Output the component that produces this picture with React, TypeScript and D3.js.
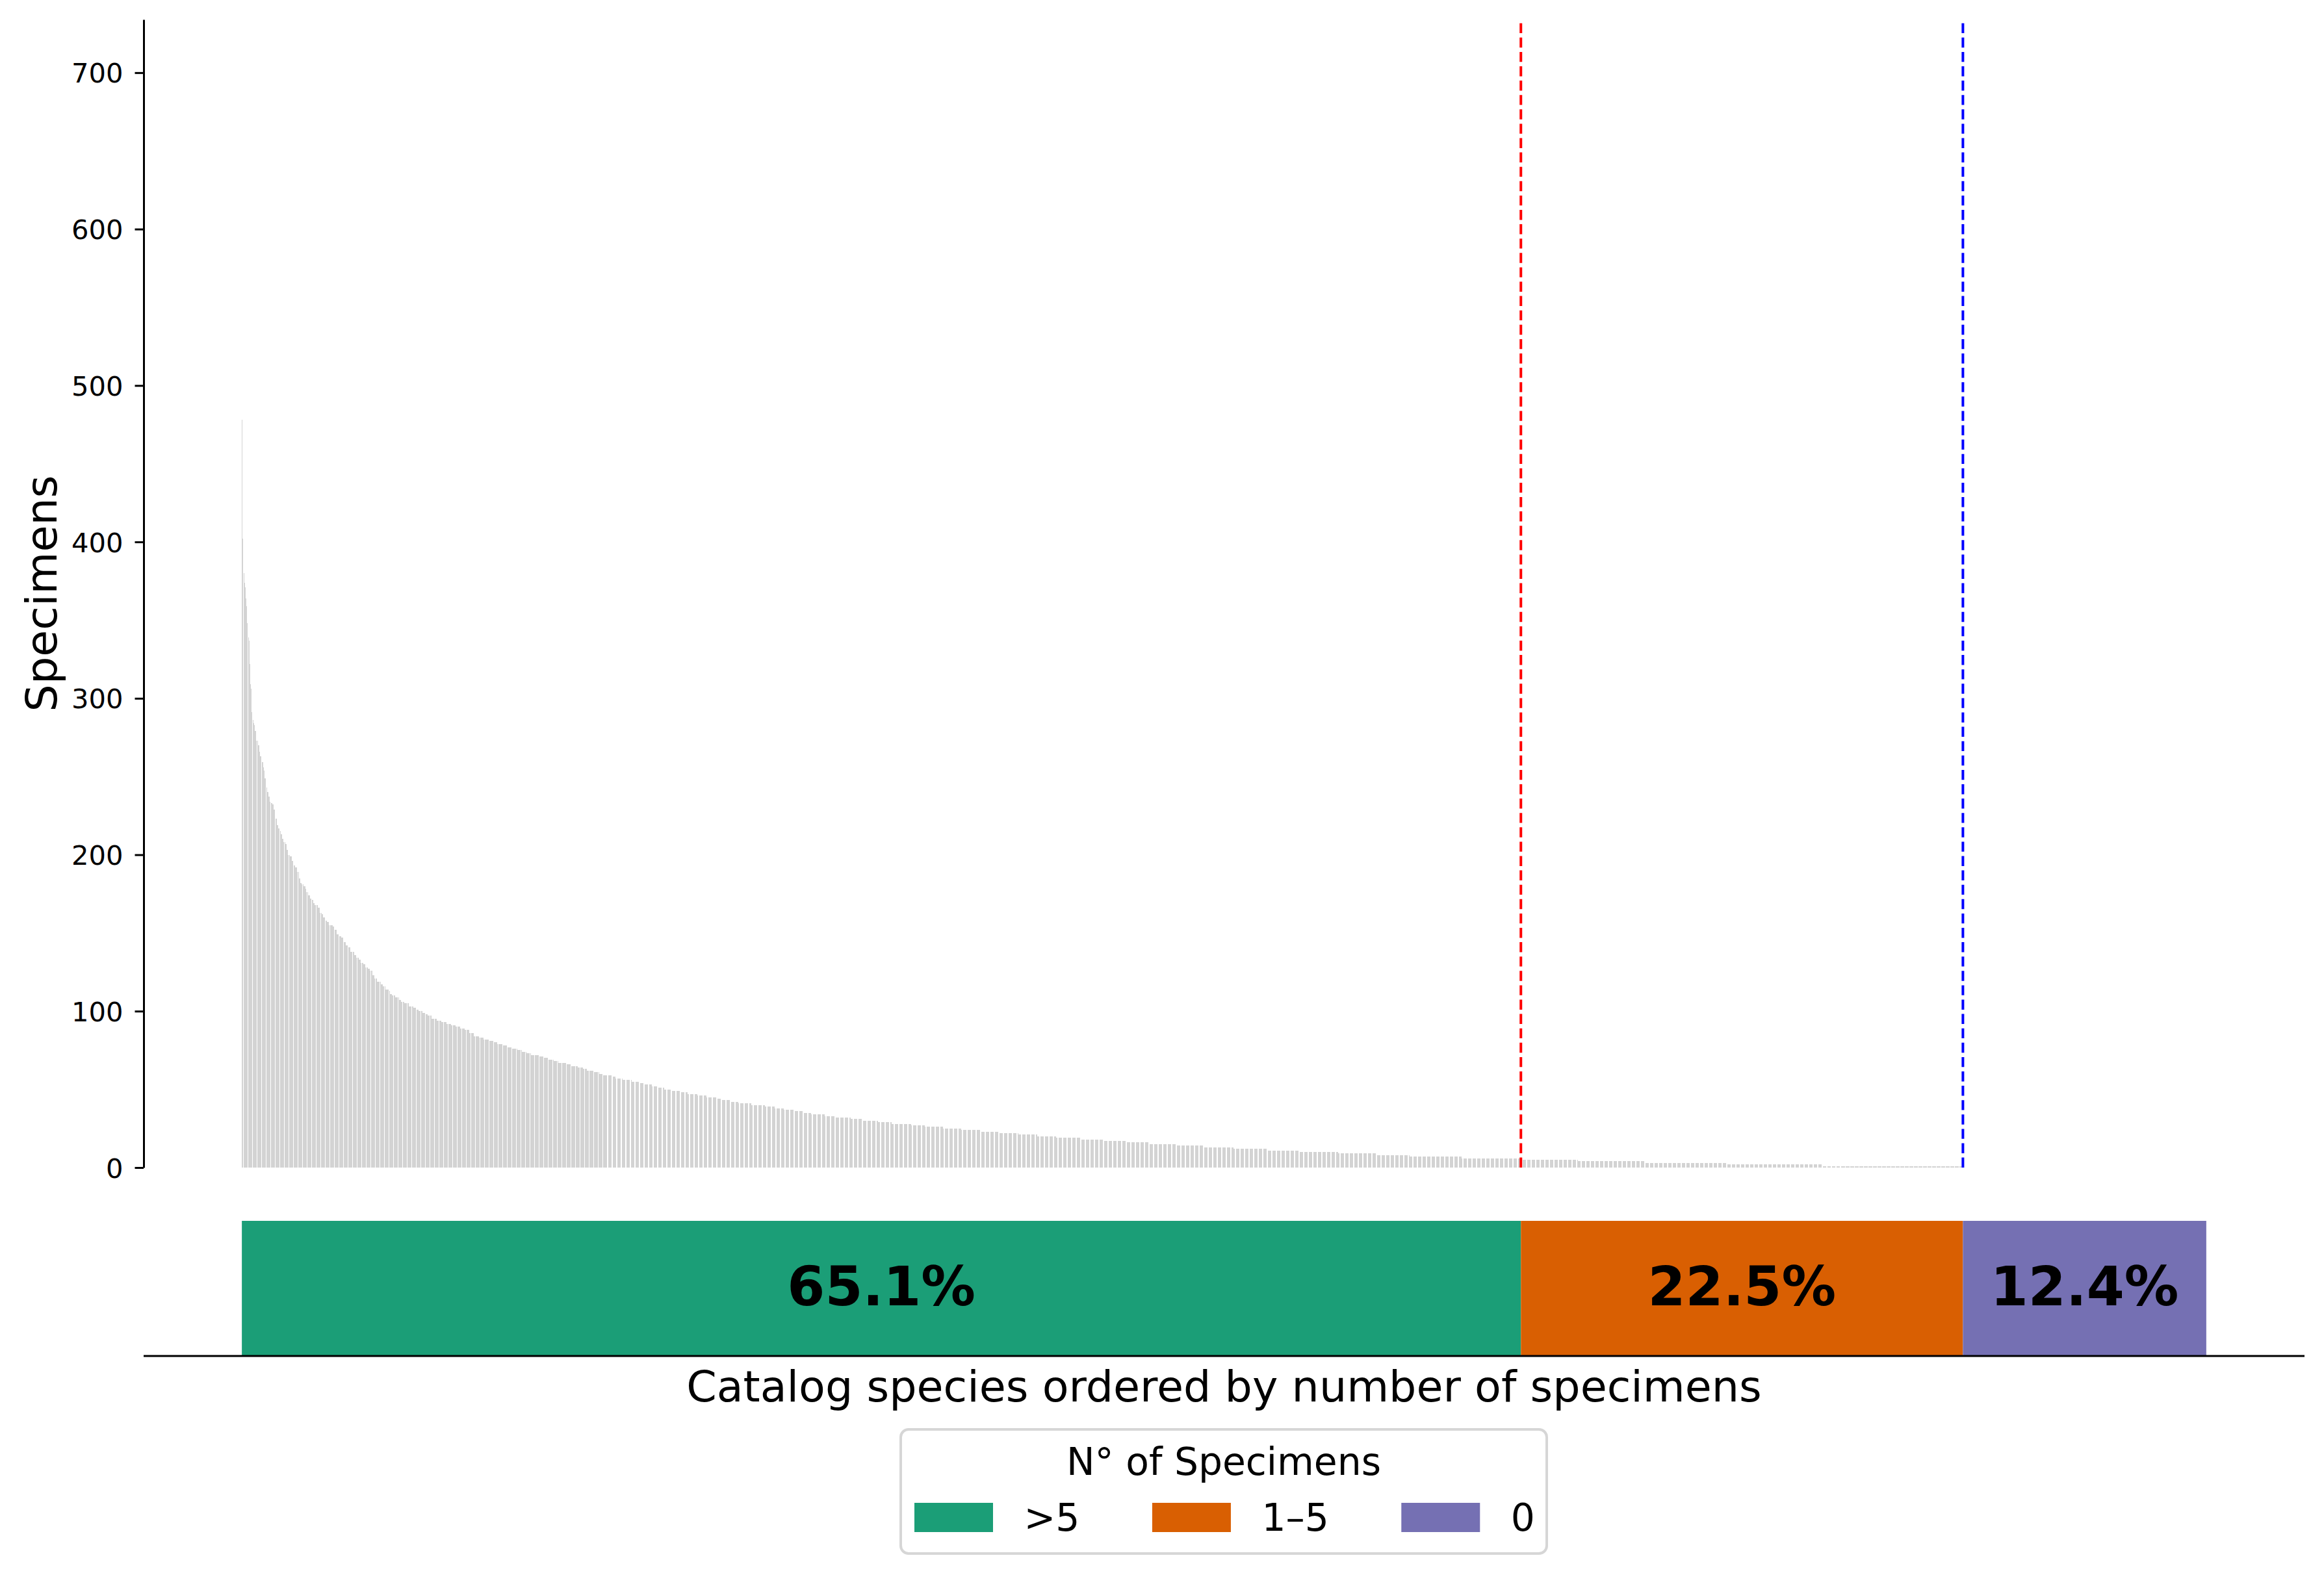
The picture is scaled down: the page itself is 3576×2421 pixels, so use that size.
import * as d3 from 'd3'
import { useEffect, useRef } from 'react'

const WIDTH = 3576
const HEIGHT = 2421
const FONT = '"DejaVu Sans", Verdana, sans-serif'

// specimens per species, with how many species share each value
const specimenValues = [
  478, 402, 380, 374, 371, 364, 359, 348, 339, 337, 322, 309, 306, 291, 286, 284, 283, 279, 273, 270,
  266, 263, 259, 256, 254, 249, 243, 240, 237, 234, 233, 232, 229, 223, 219, 217, 215, 213, 210, 208,
  207, 203, 200, 199, 196, 193, 192, 189, 185, 182, 181, 180, 178, 176, 174, 172, 171, 169, 168, 166,
  163, 162, 160, 158, 157, 155, 154, 152, 149, 148, 147, 144, 142, 141, 138, 136, 134, 133, 131, 130,
  128, 127, 126, 123, 121, 119, 117, 116, 114, 113, 111, 110, 109, 107, 106, 105, 103, 102, 101, 100,
  99, 98, 97, 95, 94, 93, 92, 91, 90, 89, 88, 86, 84, 83, 82, 81, 80, 79, 78, 77,
  76, 75, 74, 73, 72, 71, 70, 69, 68, 67, 66, 65, 64, 63, 62, 61, 60, 59, 58, 57,
  56, 55, 54, 53, 52, 51, 50, 49, 48, 47, 46, 45, 44, 43, 42, 41, 40, 39, 38, 37,
  36, 35, 34, 33, 32, 31, 30, 29, 28, 27, 26, 25, 24, 23, 22, 21, 20, 19, 18, 17,
  16, 15, 14, 13, 12, 11, 10, 9, 8, 7, 6, 5, 4, 3, 2, 1, 0,
]
const speciesPerValue = [
  1, 1, 1, 1, 1, 1, 1, 1, 1, 1, 1, 1, 1, 1, 1, 1, 1, 2, 2, 2,
  1, 2, 2, 1, 1, 2, 1, 2, 2, 1, 2, 2, 2, 2, 2, 2, 1, 2, 2, 2,
  2, 2, 2, 3, 2, 2, 3, 2, 2, 2, 2, 3, 1, 2, 3, 2, 2, 2, 4, 3,
  2, 2, 3, 2, 3, 5, 2, 3, 3, 3, 3, 3, 3, 3, 5, 3, 3, 3, 3, 3,
  3, 3, 3, 3, 3, 5, 3, 3, 5, 1, 3, 4, 5, 3, 4, 6, 6, 4, 3, 5,
  4, 3, 5, 7, 6, 7, 6, 6, 6, 6, 6, 6, 7, 6, 7, 6, 5, 7, 6, 6,
  7, 6, 6, 6, 11, 6, 6, 7, 6, 11, 6, 9, 7, 5, 9, 7, 5, 12, 5, 9,
  12, 10, 6, 11, 7, 9, 9, 12, 10, 13, 12, 13, 6, 12, 11, 17, 18, 13, 12, 13,
  12, 11, 18, 14, 20, 16, 20, 18, 26, 18, 24, 24, 25, 24, 26, 25, 25, 32, 30, 31,
  30, 36, 35, 40, 44, 43, 51, 51, 43, 69, 78, 75, 89, 108, 125, 186, 321,
]

const groupLabels = ['>5', '1–5', '0']
const groupColors = ['#1b9e77', '#d95f02', '#7570b3']
const yTicks = [0, 100, 200, 300, 400, 500, 600, 700]
const Y_MAX = 734

const PLOT_LEFT = 221
const PLOT_RIGHT = 3546
const PLOT_TOP = 30
const PLOT_BOTTOM = 1797
const STRIP_TOP = 1879
const STRIP_BOTTOM = 2087

const groupOf = (v: number) => (v > 5 ? 0 : v > 0 ? 1 : 2)

function drawChart(node: SVGSVGElement) {
  const svg = d3.select(node)
  svg.selectAll('*').remove()

  const species = specimenValues.flatMap((v, i) => Array(speciesPerValue[i]).fill(v) as number[])
  const n = species.length
  const groupSizes = groupLabels.map((_, g) => species.filter((v) => groupOf(v) === g).length)
  const groupStarts = groupSizes.map((_, g) => d3.sum(groupSizes.slice(0, g)))

  const x = d3.scaleLinear([-0.05 * n, 1.05 * n], [PLOT_LEFT, PLOT_RIGHT])
  const y = d3.scaleLinear([0, Y_MAX], [PLOT_BOTTOM, PLOT_TOP])

  svg.append('rect').attr('width', WIDTH).attr('height', HEIGHT).attr('fill', 'white')

  // species bars, snapped to whole pixels like the Agg renderer does
  svg
    .append('g')
    .attr('fill', '#d3d3d3')
    .attr('shape-rendering', 'crispEdges')
    .selectAll('rect')
    .data(species.filter((v) => v > 0))
    .join('rect')
    .attr('x', (_, i) => Math.round(x(i + 0.1)))
    .attr('width', (_, i) => Math.round(x(i + 0.9)) - Math.round(x(i + 0.1)))
    .attr('y', (d) => Math.round(y(d)))
    .attr('height', (d) => Math.round(y(0)) - Math.round(y(d)))

  // group boundaries
  const cuts = [
    { at: groupStarts[1], color: 'red' },
    { at: groupStarts[2], color: 'blue' },
  ]
  svg
    .append('g')
    .selectAll('line')
    .data(cuts)
    .join('line')
    .attr('x1', (d) => x(d.at))
    .attr('x2', (d) => x(d.at))
    .attr('y1', y(0))
    .attr('y2', y(Y_MAX))
    .attr('stroke', (d) => d.color)
    .attr('stroke-width', 4)
    .attr('stroke-dasharray', '15.4 6.7')

  // y axis
  const yAxis = svg
    .append('g')
    .attr('transform', `translate(${PLOT_LEFT},0)`)
    .call(d3.axisLeft(y).tickValues(yTicks).tickSize(13.5).tickSizeOuter(0).tickPadding(18))
  yAxis.attr('font-family', FONT).attr('font-size', 41.7)
  yAxis.select('.domain').attr('stroke', 'black').attr('stroke-width', 3)
  yAxis.selectAll('.tick line').attr('stroke', 'black').attr('stroke-width', 3)
  yAxis.selectAll('.tick text').attr('fill', 'black').attr('dy', '0.36em')

  svg
    .append('text')
    .attr('transform', `translate(87,${(PLOT_TOP + PLOT_BOTTOM) / 2}) rotate(-90)`)
    .attr('text-anchor', 'middle')
    .attr('font-family', FONT)
    .attr('font-size', 66.7)
    .text('Specimens')

  // share strip
  const strip = svg.append('g')
  strip
    .selectAll('rect')
    .data(groupLabels)
    .join('rect')
    .attr('x', (_, g) => x(groupStarts[g]))
    .attr('width', (_, g) => x(groupStarts[g] + groupSizes[g]) - x(groupStarts[g]))
    .attr('y', STRIP_TOP)
    .attr('height', STRIP_BOTTOM - STRIP_TOP)
    .attr('fill', (_, g) => groupColors[g])
  const pct = d3.format('.1%')
  strip
    .selectAll('text')
    .data(groupLabels)
    .join('text')
    .attr('x', (_, g) => x(groupStarts[g] + groupSizes[g] / 2))
    .attr('y', 2009)
    .attr('text-anchor', 'middle')
    .attr('font-family', FONT)
    .attr('font-weight', 'bold')
    .attr('font-size', 83.5)
    .text((_, g) => pct(groupSizes[g] / n))
  svg
    .append('line')
    .attr('x1', PLOT_LEFT)
    .attr('x2', PLOT_RIGHT)
    .attr('y1', STRIP_BOTTOM)
    .attr('y2', STRIP_BOTTOM)
    .attr('stroke', 'black')
    .attr('stroke-width', 3)

  svg
    .append('text')
    .attr('x', (PLOT_LEFT + PLOT_RIGHT) / 2)
    .attr('y', 2157)
    .attr('text-anchor', 'middle')
    .attr('font-family', FONT)
    .attr('font-size', 66.7)
    .text('Catalog species ordered by number of specimens')

  // legend
  const legend = svg.append('g').attr('font-family', FONT).attr('font-size', 58.3)
  legend
    .append('rect')
    .attr('x', 1386)
    .attr('y', 2200)
    .attr('width', 994)
    .attr('height', 191)
    .attr('rx', 12)
    .attr('fill', 'white')
    .attr('stroke', '#d6d6d6')
    .attr('stroke-width', 4)
  legend
    .append('text')
    .attr('x', 1883)
    .attr('y', 2270)
    .attr('text-anchor', 'middle')
    .text('N° of Specimens')
  let cursor = 1407
  groupLabels.forEach((label, g) => {
    legend
      .append('rect')
      .attr('x', cursor)
      .attr('y', 2313)
      .attr('width', 121)
      .attr('height', 45)
      .attr('fill', groupColors[g])
    const t = legend
      .append('text')
      .attr('x', cursor + 121 + 47.5)
      .attr('y', 2356)
      .text(label)
    cursor += 121 + 47.5 + (t.node() as SVGTextElement).getComputedTextLength() + 111.5
  })
}

export default function App() {
  const ref = useRef<SVGSVGElement>(null)
  useEffect(() => {
    if (ref.current) drawChart(ref.current)
  }, [])
  return (
    <svg
      ref={ref}
      width={WIDTH}
      height={HEIGHT}
      viewBox={`0 0 ${WIDTH} ${HEIGHT}`}
      style={{ position: 'absolute', left: 0, top: 0, display: 'block' }}
    />
  )
}
